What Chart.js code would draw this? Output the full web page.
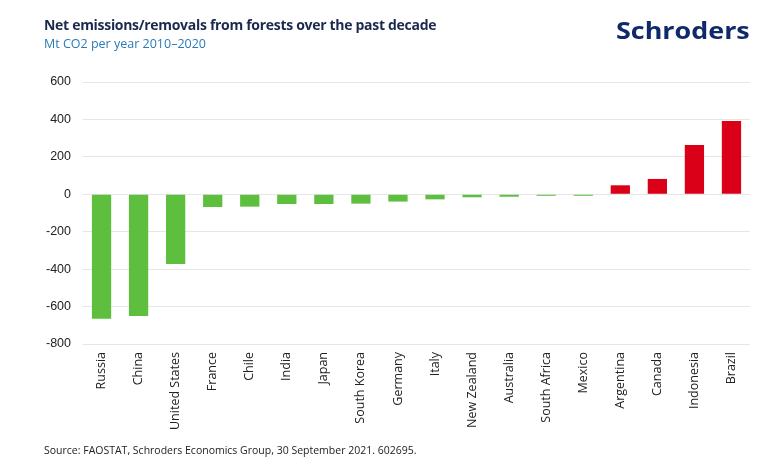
<!DOCTYPE html>
<html>
<head>
<meta charset="utf-8">
<script src="https://cdn.jsdelivr.net/npm/chart.js@4.4.0/dist/chart.umd.min.js"></script>
<style>
  body { margin: 0; background: #fff; font-family: "Open Sans", "Noto Sans", sans-serif; }
  #wrap { position: relative; width: 770px; height: 476px; overflow: hidden; }
  #title { position: absolute; left: 44px; top: 15px; font-size: 14px; font-weight: 700; color: #1b2a4c; letter-spacing: -0.3px; }
  #subtitle { position: absolute; left: 44px; top: 35px; font-size: 12.5px; color: #2a7ab8; }
  #logo { position: absolute; left: 616px; top: 14px; font-size: 23px; font-weight: 700; color: #10296a;
          transform: scaleX(1.17); transform-origin: left top; }
  #source { position: absolute; left: 44px; top: 443px; font-size: 10.5px; color: #222; }
  #chartBox { position: absolute; left: 0; top: 0; width: 770px; height: 476px; }
</style>
</head>
<body>
<div id="wrap">
  <div id="chartBox"><canvas id="barChart" width="770" height="476"></canvas></div>
  <div id="title">Net emissions/removals from forests over the past decade</div>
  <div id="subtitle">Mt CO2 per year 2010–2020</div>
  <div id="logo">Schroders</div>
  <div id="source">Source: FAOSTAT, Schroders Economics Group, 30 September 2021. 602695.</div>
</div>
<script>
const countries = ['Russia', 'China', 'United States', 'France', 'Chile', 'India', 'Japan', 'South Korea',
    'Germany', 'Italy', 'New Zealand', 'Australia', 'South Africa', 'Mexico', 'Argentina', 'Canada',
    'Indonesia', 'Brazil'];
const netEmissions = [-665, -650, -372, -68, -66, -52, -52, -50, -39, -27, -16, -13, -8, -8, 48, 82, 263, 391];
const yTicks = [600, 400, 200, 0, -200, -400, -600, -800];

const barColors = netEmissions.map(v => v < 0 ? '#5dbf3d' : '#da0017');

const ctx = document.getElementById('barChart').getContext('2d');
new Chart(ctx, {
    type: 'bar',
    data: {
        labels: countries,
        datasets: [{
            label: 'Mt CO2',
            data: netEmissions,
            backgroundColor: barColors,
            borderWidth: 0,
            barPercentage: 0.52,
            categoryPercentage: 1
        }]
    },
    options: {
        responsive: false,
        animation: false,
        devicePixelRatio: 1,
        layout: { padding: { top: 82, right: 20, bottom: 0, left: 0 } },
        plugins: { legend: { display: false }, tooltip: { enabled: false } },
        scales: {
            x: {
                grid: { display: false, drawTicks: false },
                border: { display: false },
                ticks: {
                    minRotation: 90, maxRotation: 90, autoSkip: false, padding: 8,
                    color: '#222', font: { family: 'Open Sans', size: 12.5 }
                },
                afterFit: scale => { scale.height = 132; }
            },
            y: {
                min: -800, max: 600,
                afterBuildTicks: scale => { scale.ticks = yTicks.map(v => ({ value: v })); },
                grid: { color: '#e6e6e6', drawTicks: false },
                border: { display: false },
                ticks: { padding: 12, color: '#222', font: { family: 'Liberation Sans', size: 12.5 } },
                afterFit: scale => { scale.width = 83; }
            }
        }
    }
});
</script>
</body>
</html>
